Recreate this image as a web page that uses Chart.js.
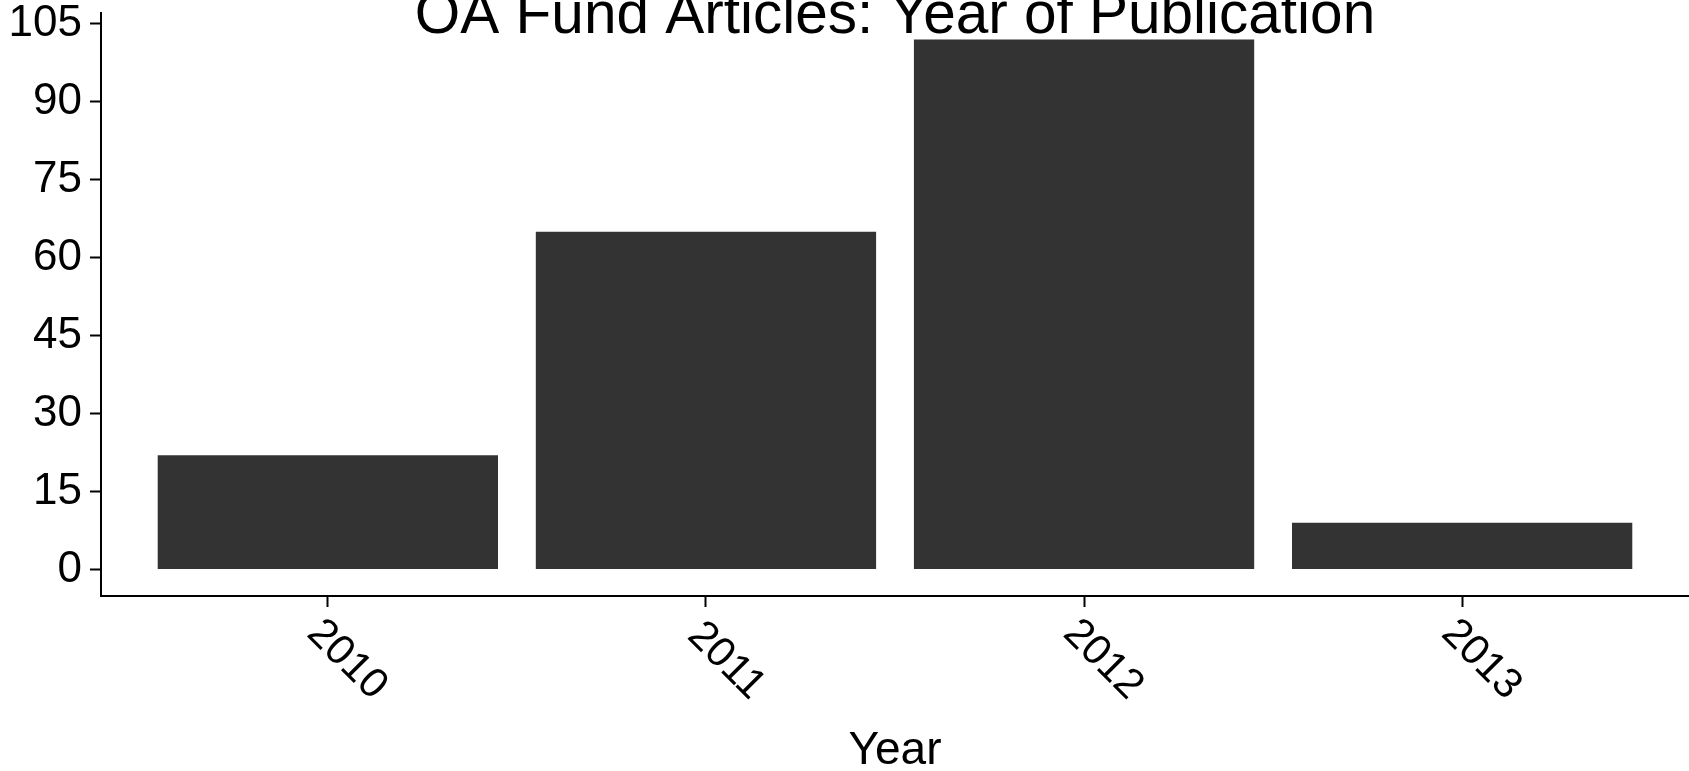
<!DOCTYPE html>
<html>
<head>
<meta charset="utf-8">
<script src="https://cdn.jsdelivr.net/npm/chart.js@4.4.1/dist/chart.umd.min.js"></script>
<style>
  html, body { margin: 0; padding: 0; background: #fff; }
  #chart { display: block; }
</style>
</head>
<body>
<canvas id="chart" width="1689" height="771"></canvas>
<script>
// values
const years = [2010, 2011, 2012, 2013];
const articleCounts = [22, 65, 102, 9];
const yTicks = [0, 15, 30, 45, 60, 75, 90, 105];
const chartTitle = "OA Fund Articles: Year of Publication";
const xTitle = "Year";

const INK = "#000000";
const BAR = "#333333";
const FONT = "'Liberation Sans', Arial, Helvetica, sans-serif";

Chart.defaults.font.family = FONT;
Chart.defaults.color = INK;

// ggplot-style title, centred over the panel and partly clipped by the top edge
const panelTitle = {
  id: "panelTitle",
  afterDraw(chart) {
    const { ctx, chartArea } = chart;
    ctx.save();
    ctx.font = "58.5px " + FONT;
    ctx.fillStyle = INK;
    ctx.textAlign = "center";
    ctx.textBaseline = "alphabetic";
    ctx.fillText(chartTitle, (chartArea.left + chartArea.right) / 2, 33);
    ctx.restore();
  },
};

new Chart(document.getElementById("chart"), {
  type: "bar",
  data: {
    datasets: [
      {
        data: years.map((y, i) => ({ x: y, y: articleCounts[i] })),
        backgroundColor: BAR,
        borderWidth: 0,
        barPercentage: 0.9,
        categoryPercentage: 1,
      },
    ],
  },
  options: {
    responsive: false,
    animation: false,
    devicePixelRatio: 1,
    layout: { padding: { top: 13, left: 0, right: 0, bottom: 0 } },
    plugins: { legend: { display: false }, tooltip: { enabled: false } },
    scales: {
      x: {
        type: "linear",
        offset: false,
        min: years[0] - 0.6,
        max: years[years.length - 1] + 0.6,
        afterBuildTicks: (axis) => {
          axis.ticks = years.map((v) => ({ value: v }));
        },
        afterFit: (axis) => {
          axis.height = 175;
          axis.paddingLeft = 0;
          axis.paddingRight = 0;
        },
        grid: {
          offset: false,
          drawOnChartArea: false,
          drawTicks: true,
          tickLength: 11,
          tickWidth: 2,
          tickColor: INK,
        },
        border: { display: true, color: INK, width: 2 },
        ticks: {
          autoSkip: false,
          minRotation: -45,
          maxRotation: -45,
          labelOffset: 52,
          padding: 68,
          color: INK,
          font: { size: 42 },
          callback: (v) => String(v),
        },
        title: {
          display: true,
          text: xTitle,
          color: INK,
          font: { size: 46, lineHeight: 1 },
          padding: { top: 0, bottom: -3 },
        },
      },
      y: {
        type: "linear",
        min: -5.1,
        max: 107.1,
        afterBuildTicks: (axis) => {
          axis.ticks = yTicks.map((v) => ({ value: v }));
        },
        afterFit: (axis) => {
          axis.width = 101;
          axis.paddingTop = 0;
          axis.paddingBottom = 0;
        },
        grid: {
          drawOnChartArea: false,
          drawTicks: true,
          tickLength: 11,
          tickWidth: 2,
          tickColor: INK,
        },
        border: { display: true, color: INK, width: 2 },
        ticks: {
          padding: 8,
          color: INK,
          font: { size: 44 },
        },
      },
    },
  },
  plugins: [panelTitle],
});
</script>
</body>
</html>
